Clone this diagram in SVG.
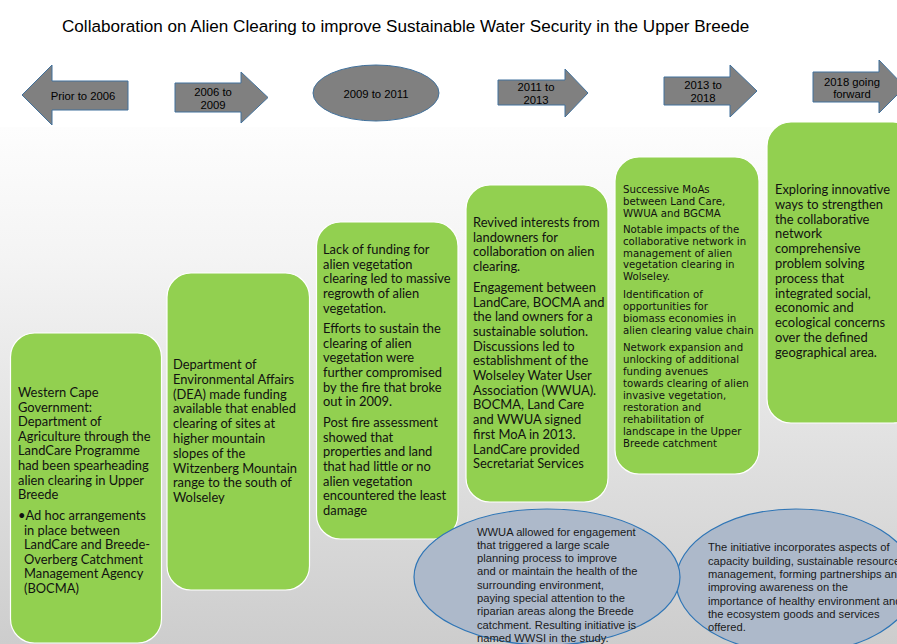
<svg xmlns="http://www.w3.org/2000/svg" width="897" height="644" viewBox="0 0 897 644">
  <defs>
    <linearGradient id="bgGrad" x1="0" y1="0" x2="0" y2="1">
      <stop offset="0" stop-color="#fdfdfd"/>
      <stop offset="0.25" stop-color="#f4f4f4"/>
      <stop offset="1" stop-color="#cdcdcd"/>
    </linearGradient>
  </defs>
  <style>
    .title { font-family: "Liberation Sans", Arial, sans-serif; font-size: 17.1px; fill: #000; }
    .period { fill: #808080; stroke: #41719c; stroke-width: 1; }
    .plabel { font-family: "Liberation Sans", Arial, sans-serif; font-size: 11.3px; fill: #000; text-anchor: middle; }
    .box { fill: #92d050; stroke: #ffffff; stroke-width: 1.2; }
    .btext { font-family: Lato, "Open Sans", sans-serif; font-size: 12.9px; fill: #111; }
    .btext-s { font-family: "DejaVu Sans", Verdana, sans-serif; font-size: 10.2px; fill: #111; }
    .oval { fill: #adb9ca; stroke: #2e75b6; stroke-width: 1.2; }
    .otext { font-family: "Liberation Sans", Arial, sans-serif; font-size: 11.2px; fill: #1a1a1a; }
  </style>

  <!-- page background -->
  <rect x="0" y="0" width="897" height="644" fill="#ffffff"/>
  <rect x="0" y="127" width="897" height="517" fill="url(#bgGrad)"/>

  <text class="title" x="62" y="32">Collaboration on Alien Clearing to improve Sustainable Water Security in the Upper Breede</text>

  <!-- timeline period markers -->
  <g id="p-prior-2006">
    <polygon class="period" points="22,95 52,65 52,81 128,81 128,110 52,110 52,125"/>
    <text class="plabel" x="83" y="100">Prior to 2006</text>
  </g>
  <g id="p-2006-2009">
    <polygon class="period" points="175,83 241,83 241,72 268,97.5 241,123 241,112 175,112"/>
    <text class="plabel" x="213" y="95.5">2006 to</text>
    <text class="plabel" x="213" y="109">2009</text>
  </g>
  <g id="p-2009-2011">
    <ellipse class="period" cx="376" cy="93" rx="63" ry="28"/>
    <text class="plabel" x="376" y="98">2009 to 2011</text>
  </g>
  <g id="p-2011-2013">
    <polygon class="period" points="498,80 565,80 565,69 588,93 565,117 565,105 498,105"/>
    <text class="plabel" x="536" y="91">2011 to</text>
    <text class="plabel" x="536" y="104">2013</text>
  </g>
  <g id="p-2013-2018">
    <polygon class="period" points="664,77 730,77 730,65 757,91 730,117 730,105 664,105"/>
    <text class="plabel" x="703" y="89">2013 to</text>
    <text class="plabel" x="703" y="102">2018</text>
  </g>
  <g id="p-2018-forward">
    <polygon class="period" points="813,72 879,72 879,60 905,87 879,113 879,102 813,102"/>
    <text class="plabel" x="852" y="85.5">2018 going</text>
    <text class="plabel" x="852" y="97.5">forward</text>
  </g>

  <!-- period description boxes -->
  <g id="box-prior-2006">
    <rect class="box" x="10.5" y="333" width="151" height="310" rx="24"/>
    <text class="btext" x="18" y="397">
      <tspan x="18" dy="0">Western Cape</tspan>
      <tspan x="18" dy="14.6">Government:</tspan>
      <tspan x="18" dy="14.6">Department of</tspan>
      <tspan x="18" dy="14.6">Agriculture  through the</tspan>
      <tspan x="18" dy="14.6">LandCare Programme</tspan>
      <tspan x="18" dy="14.6">had been spearheading</tspan>
      <tspan x="18" dy="14.6">alien clearing in Upper</tspan>
      <tspan x="18" dy="14.6">Breede</tspan>
      <tspan x="18" dy="20.8">•Ad hoc arrangements</tspan>
      <tspan x="24" dy="14.6">in place between</tspan>
      <tspan x="24" dy="14.6">LandCare and Breede-</tspan>
      <tspan x="24" dy="14.6">Overberg Catchment</tspan>
      <tspan x="24" dy="14.6">Management Agency</tspan>
      <tspan x="24" dy="14.6">(BOCMA)</tspan>
    </text>
  </g>

  <g id="box-2006-2009">
    <rect class="box" x="167" y="273" width="142.5" height="317" rx="24"/>
    <text class="btext" x="173" y="369">
      <tspan x="173" dy="0">Department of</tspan>
      <tspan x="173" dy="14.8">Environmental Affairs</tspan>
      <tspan x="173" dy="14.8">(DEA) made funding</tspan>
      <tspan x="173" dy="14.8">available that enabled</tspan>
      <tspan x="173" dy="14.8">clearing of  sites at</tspan>
      <tspan x="173" dy="14.8">higher mountain</tspan>
      <tspan x="173" dy="14.8">slopes of the</tspan>
      <tspan x="173" dy="14.8">Witzenberg Mountain</tspan>
      <tspan x="173" dy="14.8">range to the south of</tspan>
      <tspan x="173" dy="14.8">Wolseley</tspan>
    </text>
  </g>

  <g id="box-2009-2011">
    <rect class="box" x="316.5" y="222" width="141.5" height="317" rx="24"/>
    <text class="btext" x="323" y="254">
      <tspan x="323" dy="0">Lack of funding for</tspan>
      <tspan x="323" dy="14.7">alien vegetation</tspan>
      <tspan x="323" dy="14.7">clearing led to massive</tspan>
      <tspan x="323" dy="14.7">regrowth of alien</tspan>
      <tspan x="323" dy="14.7">vegetation.</tspan>
      <tspan x="323" dy="20">Efforts to sustain the</tspan>
      <tspan x="323" dy="14.7">clearing of alien</tspan>
      <tspan x="323" dy="14.7">vegetation were</tspan>
      <tspan x="323" dy="14.7">further compromised</tspan>
      <tspan x="323" dy="14.7">by the fire that broke</tspan>
      <tspan x="323" dy="14.7">out in 2009.</tspan>
      <tspan x="323" dy="20.5">Post fire assessment</tspan>
      <tspan x="323" dy="14.7">showed that</tspan>
      <tspan x="323" dy="14.7">properties and land</tspan>
      <tspan x="323" dy="14.7">that had little or no</tspan>
      <tspan x="323" dy="14.7">alien vegetation</tspan>
      <tspan x="323" dy="14.7">encountered the least</tspan>
      <tspan x="323" dy="14.7">damage</tspan>
    </text>
  </g>

  <g id="box-2011-2013">
    <rect class="box" x="466" y="185" width="142" height="317" rx="24"/>
    <text class="btext" x="473" y="227">
      <tspan x="473" dy="0">Revived interests from</tspan>
      <tspan x="473" dy="14.7">landowners for</tspan>
      <tspan x="473" dy="14.7">collaboration on alien</tspan>
      <tspan x="473" dy="14.7">clearing.</tspan>
      <tspan x="473" dy="20.8">Engagement between</tspan>
      <tspan x="473" dy="14.7">LandCare, BOCMA and</tspan>
      <tspan x="473" dy="14.7">the land owners for a</tspan>
      <tspan x="473" dy="14.7">sustainable solution.</tspan>
      <tspan x="473" dy="14.7">Discussions led to</tspan>
      <tspan x="473" dy="14.7">establishment of the</tspan>
      <tspan x="473" dy="14.7">Wolseley Water User</tspan>
      <tspan x="473" dy="14.7">Association (WWUA).</tspan>
      <tspan x="473" dy="14.7">BOCMA, Land Care</tspan>
      <tspan x="473" dy="14.7">and WWUA signed</tspan>
      <tspan x="473" dy="14.7">first MoA in 2013.</tspan>
      <tspan x="473" dy="14.7">LandCare provided</tspan>
      <tspan x="473" dy="14.7">Secretariat Services</tspan>
    </text>
  </g>

  <g id="box-2013-2018">
    <rect class="box" x="615" y="157" width="144" height="317" rx="24"/>
    <text class="btext-s" x="623" y="192.5">
      <tspan x="623" dy="0">Successive MoAs</tspan>
      <tspan x="623" dy="12">between Land Care,</tspan>
      <tspan x="623" dy="12">WWUA and BGCMA</tspan>
      <tspan x="623" dy="16">Notable impacts of the</tspan>
      <tspan x="623" dy="12">collaborative network in</tspan>
      <tspan x="623" dy="12">management of alien</tspan>
      <tspan x="623" dy="11.5">vegetation clearing in</tspan>
      <tspan x="623" dy="12">Wolseley.</tspan>
      <tspan x="623" dy="18">Identification of</tspan>
      <tspan x="623" dy="12">opportunities  for</tspan>
      <tspan x="623" dy="12">biomass economies in</tspan>
      <tspan x="623" dy="12">alien clearing value chain</tspan>
      <tspan x="623" dy="17">Network expansion and</tspan>
      <tspan x="623" dy="12">unlocking of additional</tspan>
      <tspan x="623" dy="12">funding avenues</tspan>
      <tspan x="623" dy="12">towards clearing of alien</tspan>
      <tspan x="623" dy="12.3">invasive vegetation,</tspan>
      <tspan x="623" dy="12">restoration and</tspan>
      <tspan x="623" dy="11.7">rehabilitation of</tspan>
      <tspan x="623" dy="12">landscape in the Upper</tspan>
      <tspan x="623" dy="11.7">Breede catchment</tspan>
    </text>
  </g>

  <g id="box-2018-forward">
    <rect class="box" x="767" y="122" width="150" height="301" rx="24"/>
    <text class="btext" x="775" y="194">
      <tspan x="775" dy="0">Exploring innovative</tspan>
      <tspan x="775" dy="14.8">ways to strengthen</tspan>
      <tspan x="775" dy="14.8">the collaborative</tspan>
      <tspan x="775" dy="14.8">network</tspan>
      <tspan x="775" dy="14.8">comprehensive</tspan>
      <tspan x="775" dy="14.8">problem solving</tspan>
      <tspan x="775" dy="14.8">process that</tspan>
      <tspan x="775" dy="14.8">integrated social,</tspan>
      <tspan x="775" dy="14.8">economic and</tspan>
      <tspan x="775" dy="14.8">ecological concerns</tspan>
      <tspan x="775" dy="14.8">over the defined</tspan>
      <tspan x="775" dy="14.8">geographical area.</tspan>
    </text>
  </g>

  <!-- outcome ovals -->
  <g id="oval-initiative">
    <ellipse class="oval" cx="796" cy="581" rx="120" ry="72"/>
    <text class="otext" x="708" y="551">
      <tspan x="708" dy="0">The initiative  incorporates aspects of</tspan>
      <tspan x="708" dy="13.6">capacity building, sustainable resource</tspan>
      <tspan x="708" dy="13.4">management, forming partnerships and</tspan>
      <tspan x="708" dy="13.2">improving awareness on the</tspan>
      <tspan x="708" dy="13.4">importance of healthy environment and</tspan>
      <tspan x="708" dy="13.4">the ecosystem goods and services</tspan>
      <tspan x="708" dy="12.6">offered.</tspan>
    </text>
  </g>

  <g id="oval-wwui">
    <ellipse class="oval" cx="547" cy="577" rx="133" ry="68"/>
    <text class="otext" x="477" y="535.7">
      <tspan x="477" dy="0">WWUA allowed for engagement</tspan>
      <tspan x="477" dy="13.3">that triggered  a large scale</tspan>
      <tspan x="477" dy="13">planning process to improve</tspan>
      <tspan x="477" dy="13.4">and or maintain the health of the</tspan>
      <tspan x="477" dy="13.2">surrounding environment,</tspan>
      <tspan x="477" dy="13.3">paying special attention to the</tspan>
      <tspan x="477" dy="13.3">riparian areas along the Breede</tspan>
      <tspan x="477" dy="13.3">catchment. Resulting initiative is</tspan>
      <tspan x="477" dy="13.2">named WWSI in the study.</tspan>
    </text>
  </g>
</svg>
